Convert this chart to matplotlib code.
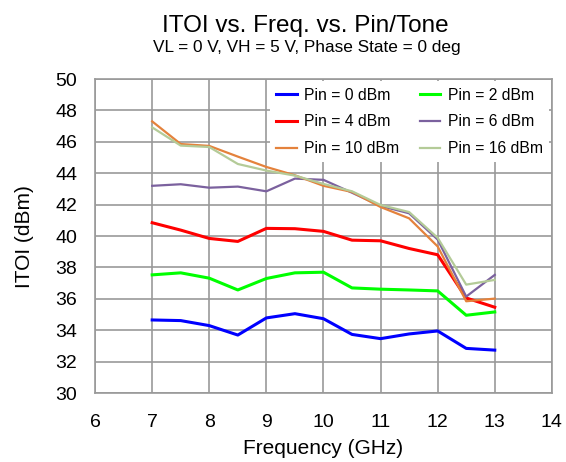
import matplotlib
matplotlib.use('Agg')
import matplotlib.pyplot as plt

plt.rcParams['font.family'] = ['Liberation Sans', 'DejaVu Sans']

# ---- data ----
FREQ_GHZ = [7, 7.5, 8, 8.5, 9, 9.5, 10, 10.5, 11, 11.5, 12, 12.5, 13]

ITOI_PIN0 = [34.66, 34.62, 34.30, 33.70, 34.79, 35.06, 34.74,
             33.74, 33.47, 33.77, 33.96, 32.85, 32.74]
ITOI_PIN2 = [37.53, 37.66, 37.32, 36.57, 37.30, 37.66, 37.70,
             36.70, 36.62, 36.57, 36.51, 34.96, 35.17]
ITOI_PIN4 = [40.85, 40.38, 39.85, 39.66, 40.49, 40.47, 40.30,
             39.74, 39.70, 39.21, 38.81, 36.06, 35.47]
ITOI_PIN6 = [43.20, 43.30, 43.08, 43.15, 42.85, 43.66, 43.58,
             42.76, 41.92, 41.45, 39.78, 36.15, 37.53]
ITOI_PIN10 = [47.30, 45.86, 45.74, 45.06, 44.40, 43.87, 43.20,
              42.81, 41.85, 41.13, 39.34, 35.85, 36.02]
ITOI_PIN16 = [46.92, 45.76, 45.67, 44.59, 44.17, 43.85, 43.32,
              42.85, 41.98, 41.53, 39.89, 36.91, 37.21]

SERIES = [
    ('Pin = 0 dBm', ITOI_PIN0, '#0000FF', 2.2),
    ('Pin = 2 dBm', ITOI_PIN2, '#00FF00', 2.2),
    ('Pin = 4 dBm', ITOI_PIN4, '#FF0000', 2.2),
    ('Pin = 6 dBm', ITOI_PIN6, '#7B619E', 1.6),
    ('Pin = 10 dBm', ITOI_PIN10, '#E4823C', 1.6),
    ('Pin = 16 dBm', ITOI_PIN16, '#B4CB98', 1.6),
]

fig = plt.figure(figsize=(5.66, 4.62), dpi=100)
ax = fig.add_axes([0.168, 0.149, 0.807, 0.680])

lines = []
for label, vals, color, lw in SERIES:
    ln, = ax.plot(FREQ_GHZ, vals, color=color, lw=lw, label=label, zorder=3)
    lines.append(ln)

ax.set_xlim(6, 14)
ax.set_ylim(30, 50)
ax.set_xticks(range(6, 15))
ax.set_yticks(range(30, 51, 2))
ax.grid(True, color='#999999', lw=1.2, zorder=0)
ax.set_axisbelow(True)
for spine in ax.spines.values():
    spine.set_color('#999999')
    spine.set_linewidth(1.2)
ax.tick_params(length=0, labelsize=14, colors='#000000')
ax.tick_params(axis='x', pad=15)
ax.tick_params(axis='y', pad=13)

ax.set_xlabel('Frequency (GHz)', fontsize=15, labelpad=6)
ax.set_ylabel('ITOI (dBm)', fontsize=15, labelpad=15)

# legend filled row by row: (0, 2), (4, 6), (10, 16)
order = [0, 2, 4, 1, 3, 5]
leg = ax.legend([lines[i] for i in order], [SERIES[i][0] for i in order],
                loc='upper right', ncol=2, fontsize=11.3, frameon=True,
                fancybox=False, framealpha=1.0, edgecolor='white',
                handlelength=1.3, handletextpad=0.5, columnspacing=1.3,
                borderaxespad=0.15, labelspacing=0.75)
leg.get_frame().set_linewidth(0)

fig.text(0.539, 0.931, 'ITOI vs. Freq. vs. Pin/Tone', ha='center',
         va='baseline', fontsize=17.5)
fig.text(0.542, 0.887, 'VL = 0 V, VH = 5 V, Phase State = 0 deg',
         ha='center', va='baseline', fontsize=12.4)

fig.savefig('out.png', dpi=100)
